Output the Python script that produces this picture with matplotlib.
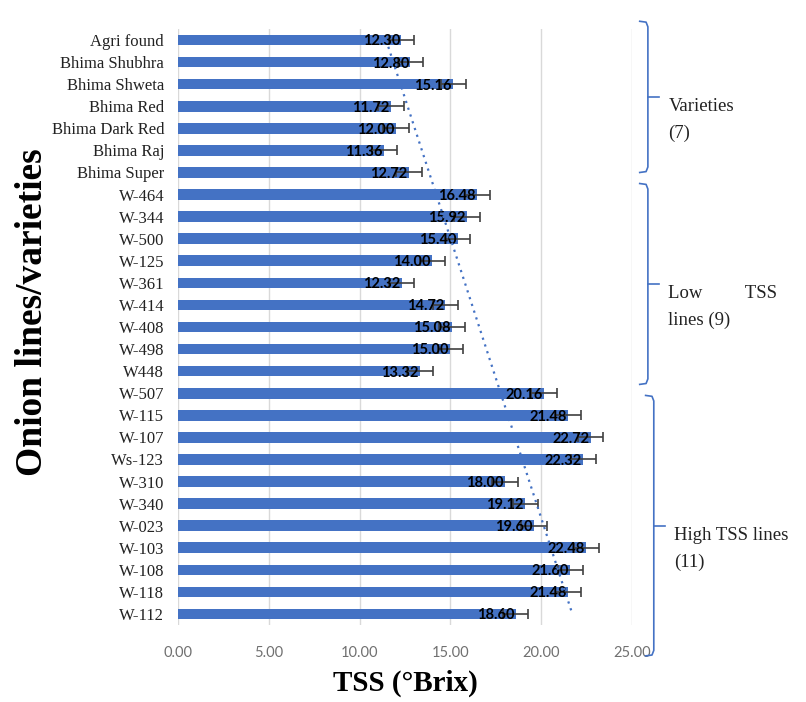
import numpy as np
import matplotlib
matplotlib.use("Agg")
import matplotlib.pyplot as plt
from matplotlib.lines import Line2D

# Onion lines/varieties (top to bottom) and their TSS values
names = ["Agri found", "Bhima Shubhra", "Bhima Shweta", "Bhima Red", "Bhima Dark Red",
         "Bhima Raj", "Bhima Super",
         "W-464", "W-344", "W-500", "W-125", "W-361", "W-414", "W-408", "W-498", "W448",
         "W-507", "W-115", "W-107", "Ws-123", "W-310", "W-340", "W-023", "W-103",
         "W-108", "W-118", "W-112"]
tss = [12.30, 12.80, 15.16, 11.72, 12.00, 11.36, 12.72,
       16.48, 15.92, 15.40, 14.00, 12.32, 14.72, 15.08, 15.00, 13.32,
       20.16, 21.48, 22.72, 22.32, 18.00, 19.12, 19.60, 22.48, 21.60, 21.48, 18.60]
err = [0.70] * len(tss)

# group labels
group_labels = ["Varieties\n(7)", "Low         TSS\nlines (9)", "High TSS lines\n(11)"]

bar_color = "#4472C4"
serif = "Liberation Serif"

fig = plt.figure(figsize=(8.06, 7.02), dpi=100)
ax = fig.add_axes([178 / 806, 1 - 625 / 702, (632 - 178) / 806, (625 - 29) / 702])

y = np.arange(len(names))
ax.barh(y, tss, height=0.48, color=bar_color, zorder=2)
ax.errorbar(tss, y, xerr=err, fmt="none", ecolor="#404040", elinewidth=1.2,
            capsize=3.8, capthick=1.2, zorder=3)

for yi, v in zip(y, tss):
    ax.annotate(f"{v:.2f}", (v, yi), xytext=(-1, -1), textcoords="offset points",
                ha="right", va="center", fontsize=10.5, fontweight="bold",
                family="Lato", color="black", zorder=4)

# linear trend of TSS against row order
k, b = np.polyfit(y, tss, 1)
yt = np.array([0, len(names) - 1])
ax.plot(k * yt + b, yt, color=bar_color, ls=(0, (1, 2.2)), lw=1.6, zorder=4)

ax.set_xlim(0, 25)
ax.set_ylim(len(names) - 0.5, -0.5)
ax.set_xticks(np.arange(0, 26, 5))
ax.set_xticklabels([f"{t:.2f}" for t in np.arange(0, 26, 5)], color="#707070",
                   fontsize=10.5, family="Lato")
ax.set_yticks(y)
ax.set_yticklabels(names, family=serif, fontsize=12, color="#222222")
ax.tick_params(axis="x", length=0, pad=15)
ax.tick_params(axis="y", length=0, pad=10)
ax.grid(axis="x", color="#d9d9d9", lw=1, zorder=0)
for s in ax.spines.values():
    s.set_visible(False)

ax.set_xlabel("TSS (°Brix)", family=serif, fontsize=21, fontweight="bold", labelpad=7)
ax.set_ylabel("Onion lines/varieties", family=serif, fontsize=27, fontweight="bold")
ax.yaxis.set_label_coords(-0.282, 0.525)

# curly brackets to the right of the plot (row spans, x in axes fraction)
tr = ax.get_yaxis_transform()
spans = [(-0.85, 6.0, 1.035), (6.5, 15.6, 1.035), (16.1, 27.9, 1.048)]
for (top, bot, xb), label in zip(spans, group_labels):
    mid = (top + bot) / 2
    hook = 0.018
    ax.add_line(Line2D([xb - hook, xb - 0.004, xb, xb, xb - 0.004, xb - hook],
                       [top, top + 0.04, top + 0.25, bot - 0.25, bot - 0.04, bot],
                       transform=tr, color=bar_color, lw=1.2, clip_on=False))
    ax.add_line(Line2D([xb, xb + 0.025], [mid, mid], transform=tr, color=bar_color,
                       lw=1.2, clip_on=False))
    ax.text(xb + 0.045, mid + 1.05, label, transform=tr, va="center", ha="left",
            family=serif, fontsize=13.5, color="#222222", linespacing=1.75,
            clip_on=False)

fig.savefig("out.png", dpi=100)
